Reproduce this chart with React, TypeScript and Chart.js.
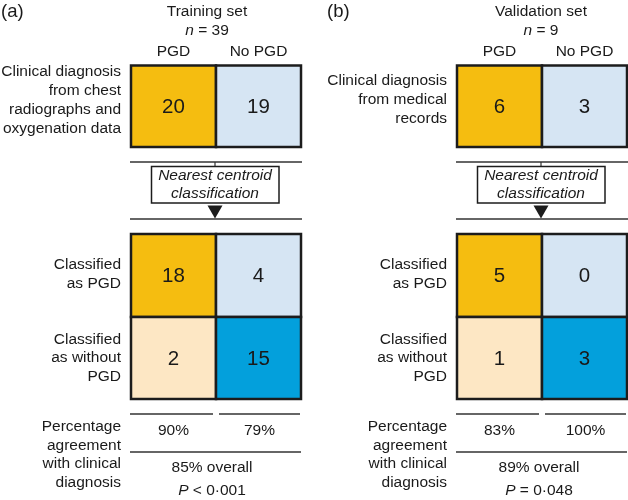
import React, { useEffect, useRef } from "react";
import { Chart, registerables } from "chart.js";
Chart.register(...registerables);

// ---- data ----
const panelLabels = ["(a)", "(b)"];
const setNames = ["Training set", "Validation set"];
const setSizes = [39, 9];
const columnLabels = ["PGD", "No PGD"];
const clinicalRowLabels = [
  ["Clinical diagnosis", "from chest", "radiographs and", "oxygenation data"],
  ["Clinical diagnosis", "from medical", "records"],
];
const clinicalCounts = [
  [20, 19],
  [6, 3],
];
const methodLabel = ["Nearest centroid", "classification"];
const classifiedRowLabels = [
  ["Classified", "as PGD"],
  ["Classified", "as without", "PGD"],
];
const classifiedAsPGD = [
  [18, 4],
  [5, 0],
];
const classifiedAsNoPGD = [
  [2, 15],
  [1, 3],
];
const agreementLabel = ["Percentage", "agreement", "with clinical", "diagnosis"];
const columnAgreement = [
  [90, 79],
  [83, 100],
];
const overallAgreement = [85, 89];
const pValueOps = ["<", "="];
const pValues = ["0·001", "0·048"];

// ---- styles ----
const FONT = "'Liberation Sans', Arial, Helvetica, sans-serif";
const C_YELLOW = "#F5BD10";
const C_LBLUE = "#D6E5F3";
const C_PEACH = "#FDE7C4";
const C_BLUE = "#03A0DC";
const C_BORDER = "#1c1c1c";
const C_LINE = "#333333";
const C_TEXT = "#1a1a1a";

const panelOffsets = [0, 326];
const titleCenters = [207, 541];
const overallCenters = [212, 539];

type Run = { text: string; italic?: boolean };

const diagramPlugin = {
  id: "diagram",
  afterDraw(chart: any) {
    const ctx: CanvasRenderingContext2D = chart.ctx;
    const xs = chart.scales.x;
    const ys = chart.scales.y;
    const X = (v: number) => xs.getPixelForValue(v);
    const Y = (v: number) => ys.getPixelForValue(v);

    const font = (size: number, italic = false) =>
      `${italic ? "italic " : ""}${size}px ${FONT}`;

    const runs = (parts: Run[], cx: number, cy: number, size: number) => {
      ctx.textBaseline = "middle";
      ctx.textAlign = "left";
      let total = 0;
      const widths = parts.map((p) => {
        ctx.font = font(size, p.italic);
        const w = ctx.measureText(p.text).width;
        total += w;
        return w;
      });
      let x = X(cx) - total / 2;
      parts.forEach((p, i) => {
        ctx.font = font(size, p.italic);
        ctx.fillStyle = C_TEXT;
        ctx.fillText(p.text, x, Y(cy));
        x += widths[i];
      });
    };
    const text = (
      s: string,
      x: number,
      y: number,
      size: number,
      align: CanvasTextAlign = "center",
      italic = false
    ) => {
      ctx.font = font(size, italic);
      ctx.fillStyle = C_TEXT;
      ctx.textAlign = align;
      ctx.textBaseline = "middle";
      ctx.fillText(s, X(x), Y(y));
    };
    const lines = (arr: string[], right: number, yCenter: number, size: number, lh: number) => {
      const start = yCenter - ((arr.length - 1) * lh) / 2;
      arr.forEach((s, i) => text(s, right, start + i * lh, size, "right"));
    };
    const hline = (x0: number, x1: number, y: number, w = 1.5) => {
      ctx.strokeStyle = C_LINE;
      ctx.lineWidth = w;
      ctx.beginPath();
      ctx.moveTo(X(x0), Y(y));
      ctx.lineTo(X(x1), Y(y));
      ctx.stroke();
    };
    const cell = (x0: number, y0: number, x1: number, y1: number, fill: string, value: number) => {
      ctx.fillStyle = fill;
      ctx.fillRect(X(x0), Y(y0), X(x1) - X(x0), Y(y1) - Y(y0));
      ctx.strokeStyle = C_BORDER;
      ctx.lineWidth = 2.5;
      ctx.strokeRect(X(x0), Y(y0), X(x1) - X(x0), Y(y1) - Y(y0));
      text(String(value), (x0 + x1) / 2, (y0 + y1) / 2 + 1, 20.5);
    };

    ctx.save();
    panelLabels.forEach((label, p) => {
      const o = panelOffsets[p];
      const bx0 = 131 + o;
      const bmid = 216 + o;
      const bx1 = 301 + o;
      const labelRight = 121 + o;

      text(label, 1 + o, 12, 18.5, "left");
      text(setNames[p], titleCenters[p], 12, 15.5);
      runs(
        [{ text: "n", italic: true }, { text: ` = ${setSizes[p]}` }],
        titleCenters[p],
        31,
        15.5
      );
      text(columnLabels[0], (bx0 + bmid) / 2, 52, 15.5);
      text(columnLabels[1], (bmid + bx1) / 2, 52, 15.5);

      // clinical diagnosis row
      lines(clinicalRowLabels[p], labelRight, 100, 15.5, 19);
      cell(bx0, 65.5, bmid, 147, C_YELLOW, clinicalCounts[p][0]);
      cell(bmid, 65.5, bx1, 147, C_LBLUE, clinicalCounts[p][1]);

      // classification connector
      hline(bx0 - 1, bx1 + 1, 162);
      ctx.strokeStyle = C_LINE;
      ctx.lineWidth = 1.2;
      ctx.beginPath();
      ctx.moveTo(X(bmid - 1), Y(162));
      ctx.lineTo(X(bmid - 1), Y(166));
      ctx.stroke();
      ctx.fillStyle = "#ffffff";
      ctx.fillRect(X(151.5 + o), Y(166.5), X(279 + o) - X(151.5 + o), Y(203) - Y(166.5));
      ctx.strokeStyle = C_BORDER;
      ctx.lineWidth = 1.5;
      ctx.strokeRect(X(151.5 + o), Y(166.5), X(279 + o) - X(151.5 + o), Y(203) - Y(166.5));
      text(methodLabel[0], bmid - 1, 176, 15.5, "center", true);
      text(methodLabel[1], bmid - 1, 194, 15.5, "center", true);
      ctx.fillStyle = C_BORDER;
      ctx.beginPath();
      ctx.moveTo(X(bmid - 8.5), Y(205.5));
      ctx.lineTo(X(bmid + 6.5), Y(205.5));
      ctx.lineTo(X(bmid - 1), Y(218.5));
      ctx.closePath();
      ctx.fill();
      hline(bx0 - 1, bx1 + 1, 219);

      // classified rows
      lines(classifiedRowLabels[0], labelRight, 274, 15.5, 18.5);
      lines(classifiedRowLabels[1], labelRight, 358, 15.5, 18.5);
      cell(bx0, 234, bmid, 317, C_YELLOW, classifiedAsPGD[p][0]);
      cell(bmid, 234, bx1, 317, C_LBLUE, classifiedAsPGD[p][1]);
      cell(bx0, 317, bmid, 399, C_PEACH, classifiedAsNoPGD[p][0]);
      cell(bmid, 317, bx1, 399, C_BLUE, classifiedAsNoPGD[p][1]);

      // agreement
      lines(agreementLabel, labelRight, 454.5, 15.5, 18.5);
      hline(bx0 - 1, bmid - 3, 414);
      hline(bmid + 3, bx1 - 1, 414);
      text(`${columnAgreement[p][0]}%`, (bx0 + bmid) / 2, 431, 15.5);
      text(`${columnAgreement[p][1]}%`, (bmid + bx1) / 2 + 1, 431, 15.5);
      hline(bx0 - 1, bx1, 452);
      text(`${overallAgreement[p]}% overall`, overallCenters[p], 468, 15.5);
      runs(
        [{ text: "P", italic: true }, { text: ` ${pValueOps[p]} ${pValues[p]}` }],
        overallCenters[p],
        491,
        15.5
      );
    });
    ctx.restore();
  },
};

export default function App() {
  const ref = useRef<HTMLCanvasElement | null>(null);
  useEffect(() => {
    if (!ref.current) return;
    const chart = new Chart(ref.current, {
      type: "scatter",
      data: { datasets: [{ data: [], showLine: false }] },
      options: {
        animation: false,
        responsive: true,
        maintainAspectRatio: false,
        layout: { padding: 0 },
        plugins: { legend: { display: false }, tooltip: { enabled: false } },
        scales: {
          x: { type: "linear", min: 0, max: 628, display: false },
          y: { type: "linear", min: 0, max: 500, reverse: true, display: false },
        },
      },
      plugins: [diagramPlugin],
    });
    return () => chart.destroy();
  }, []);
  return (
    <div style={{ position: "absolute", left: 0, top: 0, width: 628, height: 500, background: "#fff" }}>
      <canvas ref={ref} />
    </div>
  );
}
